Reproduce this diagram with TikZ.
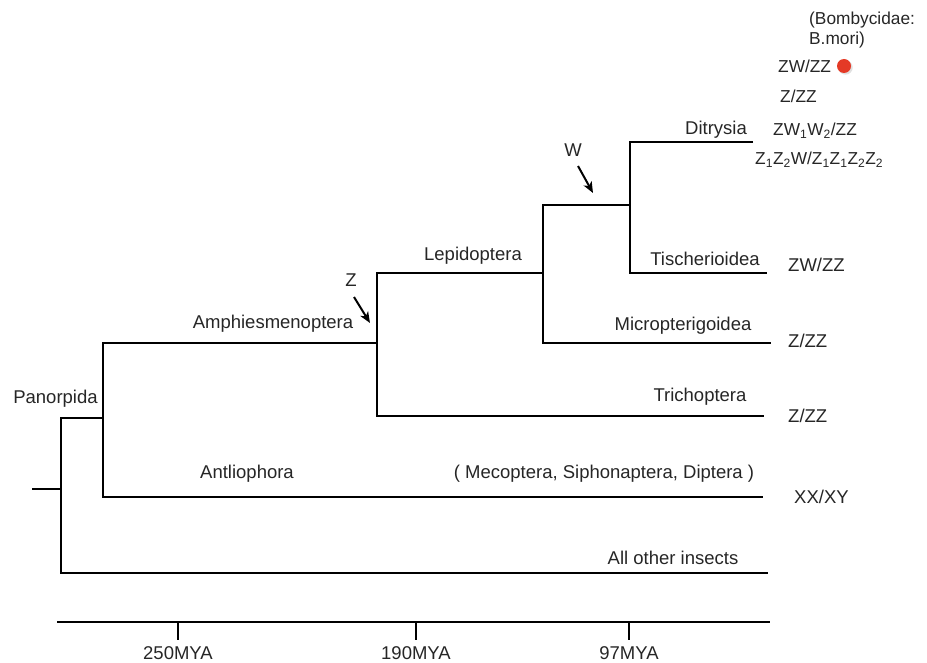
\documentclass[tikz,border=0pt]{standalone}
\usepackage{fontspec}
\setmainfont{Liberation Sans}
\usetikzlibrary{arrows.meta}
\definecolor{dotred}{RGB}{228,58,38}

\begin{document}
\begin{tikzpicture}[x=1pt,y=-1pt,
  branch/.style={line width=2pt},
  pointer/.style={line width=2pt,-{Stealth[length=11pt,width=9pt,inset=3pt]}},
  lab/.style={anchor=base,inner sep=0pt,text=black!85,font=\fontsize{18.5}{22}\selectfont},
  karyo/.style={anchor=base west,inner sep=0pt,text=black!85,font=\fontsize{17.3}{20}\selectfont}]
\useasboundingbox (0,0) rectangle (927,663);

%branch points
\coordinate (stub) at (32,489);  \coordinate (oStub) at (61,489);
\coordinate (oTop) at (61,418);  \coordinate (oBot) at (61,573);
\coordinate (pTop) at (103,343); \coordinate (pMid) at (103,418); \coordinate (pBot) at (103,497);
\coordinate (aTop) at (377,273); \coordinate (aMid) at (377,343); \coordinate (aBot) at (377,416);
\coordinate (lTop) at (543,205); \coordinate (lMid) at (543,273); \coordinate (lBot) at (543,343);
\coordinate (dTop) at (630,142); \coordinate (dMid) at (630,205); \coordinate (dBot) at (630,273);
%tips
\coordinate (eAll) at (768,573); \coordinate (eAnt) at (763,497);
\coordinate (eTri) at (764,416); \coordinate (eMic) at (771,343);
\coordinate (eTis) at (767,273); \coordinate (eDit) at (753,142);

%tree
\draw[branch] (stub) -- (oStub);
\draw[branch] (pMid) -- (oTop) -- (oBot) -- (eAll);
\draw[branch] (aMid) -- (pTop) -- (pBot) -- (eAnt);
\draw[branch] (lMid) -- (aTop) -- (aBot) -- (eTri);
\draw[branch] (dMid) -- (lTop) -- (lBot) -- (eMic);
\draw[branch] (eDit) -- (dTop) -- (dBot) -- (eTis);

%clade names
\node[lab] (panorpida) at (55.5,403) {Panorpida};
\node[lab] (amphi) at (273,328) {Amphiesmenoptera};
\node[lab] (antlio) at (247,478) {Antliophora};
\node[lab] (mecop) at (604,478) {( Mecoptera, Siphonaptera, Diptera )};
\node[lab] (others) at (673,564) {All other insects};
\node[lab] (trich) at (700,401.5) {Trichoptera};
\node[lab] (micro) at (683,330.5) {Micropterigoidea};
\node[lab] (lepi) at (473,260.5) {Lepidoptera};
\node[lab] (tisch) at (705,266) {Tischerioidea};
\node[lab] (ditry) at (716,135) {Ditrysia};

%origin of sex chromosomes
\node[lab] (zOrig) at (351,287) {Z};
\node[lab] (wOrig) at (573,157) {W};
\coordinate (zA) at (354,297); \coordinate (zB) at (370,323);
\coordinate (wA) at (578,166); \coordinate (wB) at (593,193);
\draw[pointer] (zA) -- (zB);
\draw[pointer] (wA) -- (wB);

%sex chromosome systems
\node[lab,anchor=base west] (kTis) at (788,272) {ZW/ZZ};
\node[lab,anchor=base west] (kMic) at (788,347) {Z/ZZ};
\node[lab,anchor=base west] (kTri) at (788,422) {Z/ZZ};
\node[lab,anchor=base west] (kAnt) at (794,503) {XX/XY};
\node[karyo] (bomb1) at (809,25) {(Bombycidae:};
\node[karyo] (bomb2) at (809,45) {B.mori)};
\node[karyo] (kDit1) at (778,73) {ZW/ZZ};
\node[karyo] (kDit2) at (780,103) {Z/ZZ};
\node[karyo] (kDit3) at (773,136) {ZW\textsubscript{1}W\textsubscript{2}/ZZ};
\node[karyo] (kDit4) at (755,165) {Z\textsubscript{1}Z\textsubscript{2}W/Z\textsubscript{1}Z\textsubscript{1}Z\textsubscript{2}Z\textsubscript{2}};
\fill[black!12] (845.5,67.5) circle (7.2);
\fill[dotred] (844,66) circle (7);

%time axis
\coordinate (axL) at (57,622); \coordinate (axR) at (770,622);
\draw[branch] (axL) -- (axR);
\foreach \x/\t in {178/250MYA,416/190MYA,629/97MYA}{
  \coordinate (tk\x) at (\x,622);
  \draw[branch] (tk\x) -- ++(0,18);
  \node[lab] (age\x) at (\x,659) {\t};
}
\end{tikzpicture}
\end{document}
